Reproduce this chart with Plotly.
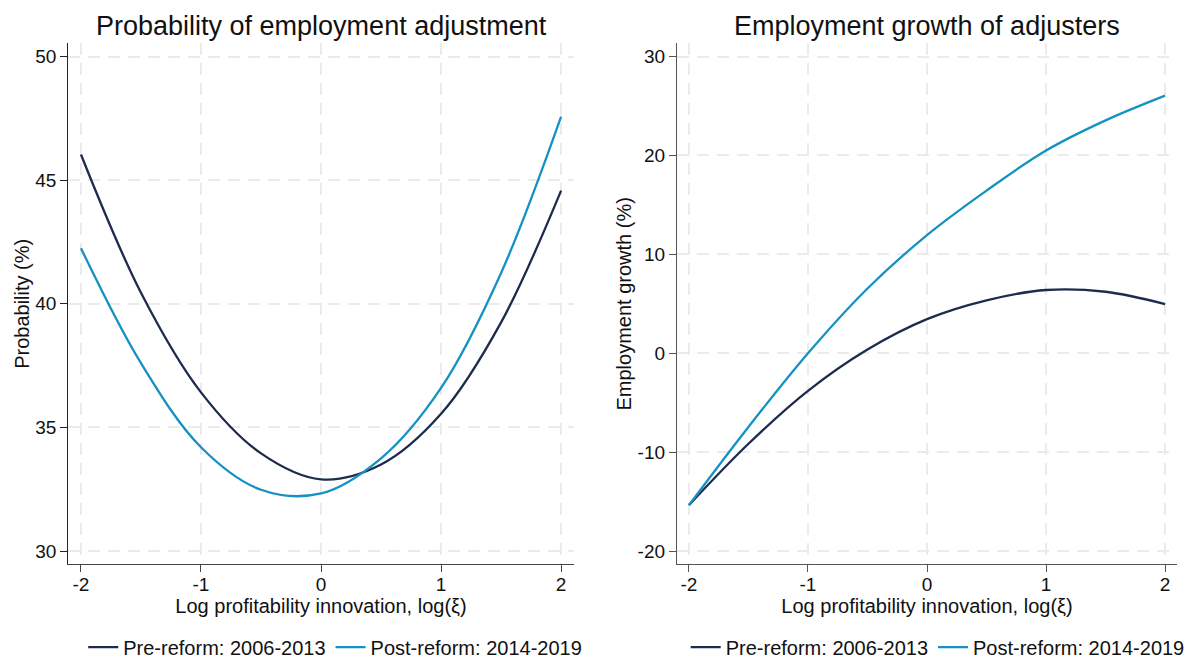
import plotly.graph_objects as go

# ---- data ----
x_vals = [-2.0, -1.5, -1.0, -0.5, 0.0, 0.5, 1.0, 1.5, 2.0]

prob_pre = [46.04, 40.45, 36.42, 33.95, 32.90, 33.50, 35.55, 39.25, 44.58]
prob_post = [42.25, 37.60, 34.20, 32.48, 32.33, 33.75, 36.60, 41.25, 47.57]

growth_pre = [-15.35, -9.15, -3.80, 0.38, 3.45, 5.35, 6.40, 6.22, 4.98]
growth_post = [-15.35, -7.45, 0.00, 6.55, 11.95, 16.45, 20.50, 23.55, 26.05]

x_ticks = [-2, -1, 0, 1, 2]
x_tick_text = ["-2", "-1", "0", "1", "2"]
prob_ticks = [30, 35, 40, 45, 50]
growth_ticks = [-20, -10, 0, 10, 20, 30]
growth_tick_text = ["-20", "-10", "0", "10", "20", "30"]

series_names = ["Pre-reform: 2006-2013", "Post-reform: 2014-2019"]
colors = ["#1d2b4e", "#1591c3"]

FONT = "Liberation Sans, Arial, Helvetica, sans-serif"
W, H = 1193, 667

fig = go.Figure()

for name, ys, c in zip(series_names, [prob_pre, prob_post], colors):
    fig.add_trace(go.Scatter(x=x_vals, y=ys, mode="lines", name=name,
                             line=dict(color=c, width=2.3, shape="spline", smoothing=1.0),
                             xaxis="x", yaxis="y", legend="legend"))
for name, ys, c in zip(series_names, [growth_pre, growth_post], colors):
    fig.add_trace(go.Scatter(x=x_vals, y=ys, mode="lines", name=name,
                             line=dict(color=c, width=2.3, shape="spline", smoothing=1.0),
                             xaxis="x2", yaxis="y2", legend="legend2"))

grid = dict(showgrid=True, gridcolor="#ebebeb", gridwidth=1.5, griddash="12px,8px",
            zeroline=False, ticks="outside", ticklen=7, tickwidth=1.2, automargin=False,
            tickfont=dict(size=19, color="#111", family=FONT), showline=True, linewidth=1.3)

xt = "Log profitability innovation, log(ξ)"
fig.update_layout(
    width=W, height=H,
    margin=dict(l=0, r=0, t=0, b=0),
    paper_bgcolor="white", plot_bgcolor="white",
    font=dict(family=FONT, color="#111"),
    showlegend=True,
    xaxis=dict(domain=[0.0573, 0.4809], range=[-2.105, 2.105], tickvals=x_ticks, ticktext=x_tick_text,
               linecolor="#444", tickcolor="#444", ticklabelstandoff=-4,
               title=dict(text=xt, font=dict(size=20), standoff=4), anchor="y", **grid),
    yaxis=dict(domain=[0.1439, 0.934], range=[29.47, 50.53], tickvals=prob_ticks,
               linecolor="#222", tickcolor="#222",
               title=dict(text="Probability (%)", font=dict(size=20), standoff=0), anchor="x", **grid),
    xaxis2=dict(domain=[0.5675, 0.9866], range=[-2.1, 2.1], tickvals=x_ticks, ticktext=x_tick_text,
                linecolor="#555", tickcolor="#555", ticklabelstandoff=-4,
                title=dict(text=xt, font=dict(size=20), standoff=4), anchor="y2", **grid),
    yaxis2=dict(domain=[0.1439, 0.934], range=[-21.32, 31.32], tickvals=growth_ticks,
                ticktext=growth_tick_text, linecolor="#555", tickcolor="#555",
                title=dict(text="Employment growth (%)", font=dict(size=20), standoff=0), anchor="x2", **grid),
    legend=dict(orientation="h", x=0.281, xanchor="center", y=0.018, yanchor="middle",
                font=dict(size=20), bgcolor="rgba(0,0,0,0)", itemwidth=30, tracegroupgap=0),
    legend2=dict(orientation="h", x=0.786, xanchor="center", y=0.018, yanchor="middle",
                 font=dict(size=20), bgcolor="rgba(0,0,0,0)", itemwidth=30, tracegroupgap=0),
    annotations=[
        dict(text="Probability of employment adjustment", x=(0.0573 + 0.4809) / 2, y=1 - 26 / 667,
             xref="paper", yref="paper", xanchor="center", yanchor="middle", showarrow=False,
             font=dict(size=27, color="#111", family=FONT)),
        dict(text="Employment growth of adjusters", x=(0.5675 + 0.9866) / 2, y=1 - 26 / 667,
             xref="paper", yref="paper", xanchor="center", yanchor="middle", showarrow=False,
             font=dict(size=27, color="#111", family=FONT)),
    ],
)

post = (
    "var d=document.getElementById('{plot_id}');"
    "var h=document.documentElement, b=document.body;"
    "[h,b].forEach(function(e){e.style.margin='0';e.style.padding='0';e.style.overflow='hidden';});"
    "d.style.display='block';"
)

fig.write_html("out.html", config={"displayModeBar": False}, post_script=post)
